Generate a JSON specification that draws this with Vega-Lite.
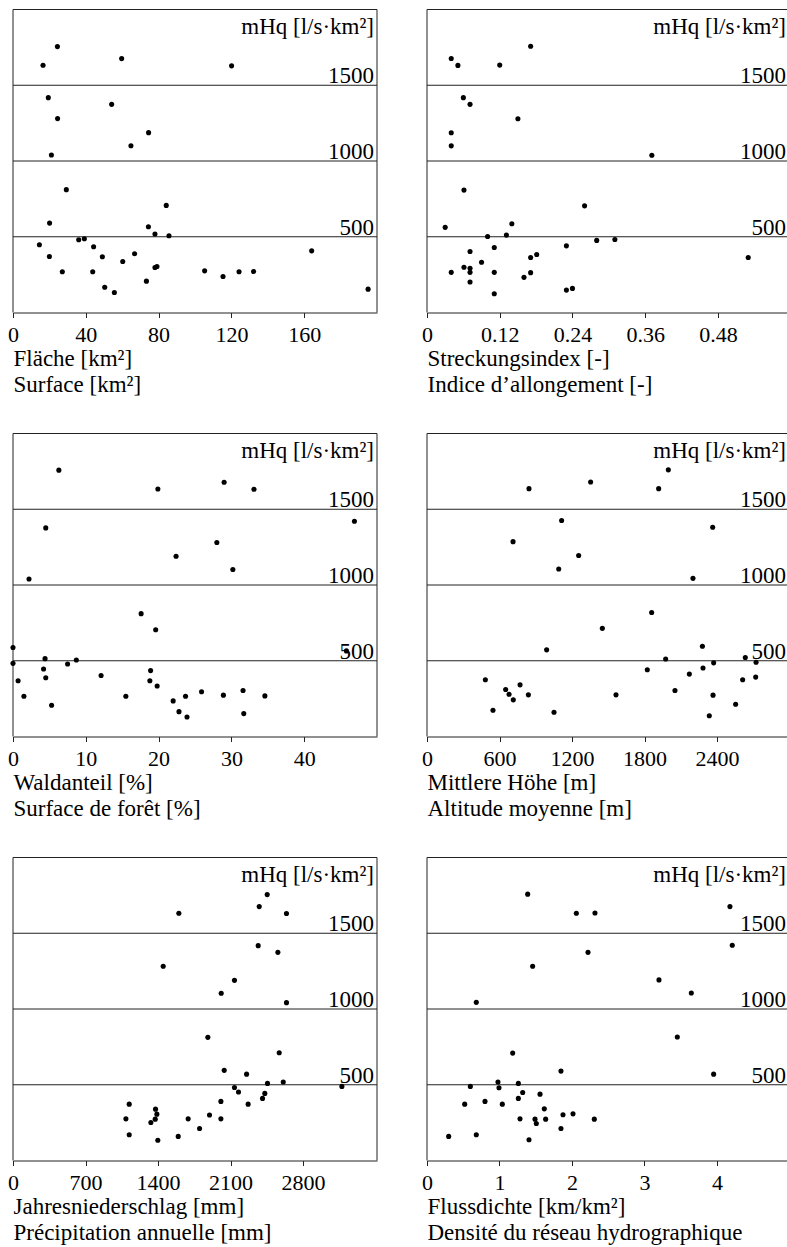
{
  "$schema": "https://vega.github.io/schema/vega-lite/v6.json",
  "padding": {"left": 7, "top": 8.5, "right": 0, "bottom": 0},
  "background": "white",
  "bounds": "flush",
  "columns": 2,
  "spacing": {"row": 121, "column": 50},
  "config": {
    "font": "Liberation Serif",
    "view": {"stroke": null},
    "scale": {"nice": false},
    "axisX": {
      "grid": false,
      "domainColor": "#222",
      "tickColor": "#222",
      "tickSize": 5,
      "labelFont": "Liberation Serif",
      "labelFontSize": 22,
      "labelColor": "black",
      "labelPadding": 7,
      "labelFlush": false,
      "labelOverlap": false,
      "titleFont": "Liberation Serif",
      "titleFontSize": 23,
      "titleFontWeight": "normal",
      "titleColor": "black",
      "titleAlign": "left",
      "titleAnchor": "start",
      "titleX": 0,
      "titleY": 53,
      "titleBaseline": "alphabetic",
      "titleLineHeight": 25.5
    },
    "rule": {"color": "#222", "strokeWidth": 1},
    "text": {"font": "Liberation Serif", "fontSize": 23, "color": "black"}
  },
  "datasets": {
    "levels": [{"level": 500}, {"level": 1000}, {"level": 1500}],
    "unit": [{"label": "mHq [l/s·km²]"}],
    "flaeche": [
      {"x": 24.4, "y": 1755}, {"x": 16.5, "y": 1632}, {"x": 59.7, "y": 1676}, {"x": 120.1, "y": 1628},
      {"x": 19.4, "y": 1418}, {"x": 54.2, "y": 1374}, {"x": 24.5, "y": 1280}, {"x": 74.5, "y": 1187},
      {"x": 64.8, "y": 1101}, {"x": 21.1, "y": 1040}, {"x": 29.3, "y": 811}, {"x": 84.2, "y": 707},
      {"x": 20.1, "y": 590}, {"x": 74.4, "y": 566}, {"x": 78.0, "y": 518}, {"x": 85.7, "y": 507},
      {"x": 36.1, "y": 480}, {"x": 39.2, "y": 487}, {"x": 14.5, "y": 447}, {"x": 44.3, "y": 434},
      {"x": 20.0, "y": 370}, {"x": 49.1, "y": 368}, {"x": 66.8, "y": 388}, {"x": 60.3, "y": 337},
      {"x": 78.0, "y": 297}, {"x": 79.1, "y": 304}, {"x": 27.1, "y": 269}, {"x": 43.8, "y": 269},
      {"x": 105.3, "y": 275}, {"x": 115.4, "y": 238}, {"x": 124.2, "y": 269}, {"x": 132.2, "y": 271},
      {"x": 73.3, "y": 207}, {"x": 50.4, "y": 167}, {"x": 55.7, "y": 132}, {"x": 164.1, "y": 407},
      {"x": 195.1, "y": 154}
    ],
    "streckung": [
      {"x": 0.171, "y": 1757}, {"x": 0.040, "y": 1677}, {"x": 0.051, "y": 1631}, {"x": 0.120, "y": 1633},
      {"x": 0.060, "y": 1418}, {"x": 0.071, "y": 1374}, {"x": 0.150, "y": 1279}, {"x": 0.040, "y": 1186},
      {"x": 0.040, "y": 1100}, {"x": 0.371, "y": 1038}, {"x": 0.061, "y": 808}, {"x": 0.260, "y": 704},
      {"x": 0.030, "y": 562}, {"x": 0.140, "y": 586}, {"x": 0.100, "y": 502}, {"x": 0.131, "y": 511},
      {"x": 0.280, "y": 476}, {"x": 0.310, "y": 482}, {"x": 0.111, "y": 429}, {"x": 0.230, "y": 440},
      {"x": 0.071, "y": 403}, {"x": 0.171, "y": 363}, {"x": 0.181, "y": 383}, {"x": 0.090, "y": 332},
      {"x": 0.061, "y": 299}, {"x": 0.071, "y": 292}, {"x": 0.071, "y": 265}, {"x": 0.040, "y": 265},
      {"x": 0.111, "y": 265}, {"x": 0.171, "y": 263}, {"x": 0.160, "y": 232}, {"x": 0.071, "y": 201},
      {"x": 0.111, "y": 124}, {"x": 0.230, "y": 148}, {"x": 0.240, "y": 159}, {"x": 0.530, "y": 363}
    ],
    "wald": [
      {"x": 6.3, "y": 1758}, {"x": 19.9, "y": 1634}, {"x": 29.0, "y": 1678}, {"x": 33.1, "y": 1632},
      {"x": 4.5, "y": 1377}, {"x": 46.9, "y": 1421}, {"x": 28.0, "y": 1281}, {"x": 22.4, "y": 1190},
      {"x": 30.2, "y": 1102}, {"x": 2.2, "y": 1040}, {"x": 17.6, "y": 811}, {"x": 19.6, "y": 705},
      {"x": 0, "y": 587}, {"x": 0, "y": 483}, {"x": 4.4, "y": 514}, {"x": 7.5, "y": 479},
      {"x": 8.7, "y": 505}, {"x": 4.2, "y": 446}, {"x": 18.9, "y": 435}, {"x": 45.8, "y": 565},
      {"x": 0.7, "y": 368}, {"x": 4.5, "y": 388}, {"x": 12.1, "y": 403}, {"x": 18.8, "y": 368},
      {"x": 19.8, "y": 333}, {"x": 1.5, "y": 266}, {"x": 5.3, "y": 206}, {"x": 15.5, "y": 266},
      {"x": 22.0, "y": 235}, {"x": 23.7, "y": 266}, {"x": 22.8, "y": 164}, {"x": 23.9, "y": 129},
      {"x": 25.9, "y": 295}, {"x": 28.9, "y": 273}, {"x": 31.6, "y": 304}, {"x": 31.7, "y": 151},
      {"x": 34.6, "y": 268}
    ],
    "hoehe": [
      {"x": 1997, "y": 1760}, {"x": 1354, "y": 1680}, {"x": 844, "y": 1636}, {"x": 1917, "y": 1636},
      {"x": 1114, "y": 1426}, {"x": 2364, "y": 1381}, {"x": 712, "y": 1286}, {"x": 1255, "y": 1195},
      {"x": 1090, "y": 1106}, {"x": 2201, "y": 1044}, {"x": 1859, "y": 818}, {"x": 1451, "y": 714},
      {"x": 990, "y": 572}, {"x": 2279, "y": 596}, {"x": 1975, "y": 512}, {"x": 2634, "y": 521},
      {"x": 2723, "y": 490}, {"x": 2372, "y": 486}, {"x": 1823, "y": 441}, {"x": 2284, "y": 452},
      {"x": 2171, "y": 412}, {"x": 483, "y": 375}, {"x": 2612, "y": 375}, {"x": 2720, "y": 392},
      {"x": 770, "y": 341}, {"x": 651, "y": 310}, {"x": 679, "y": 279}, {"x": 839, "y": 275},
      {"x": 714, "y": 242}, {"x": 1564, "y": 275}, {"x": 2052, "y": 304}, {"x": 2367, "y": 273},
      {"x": 546, "y": 173}, {"x": 1051, "y": 160}, {"x": 2554, "y": 213}, {"x": 2336, "y": 137}
    ],
    "niederschlag": [
      {"x": 2454, "y": 1755}, {"x": 2377, "y": 1676}, {"x": 1601, "y": 1632}, {"x": 2640, "y": 1630},
      {"x": 2367, "y": 1418}, {"x": 2557, "y": 1374}, {"x": 1450, "y": 1282}, {"x": 2138, "y": 1189},
      {"x": 2010, "y": 1104}, {"x": 2640, "y": 1042}, {"x": 1881, "y": 813}, {"x": 2570, "y": 711},
      {"x": 2039, "y": 595}, {"x": 2255, "y": 570}, {"x": 2609, "y": 518}, {"x": 2457, "y": 509},
      {"x": 3175, "y": 489}, {"x": 2138, "y": 482}, {"x": 2177, "y": 452}, {"x": 2431, "y": 443},
      {"x": 2409, "y": 410}, {"x": 2270, "y": 372}, {"x": 2007, "y": 390}, {"x": 1122, "y": 372},
      {"x": 1376, "y": 339}, {"x": 1389, "y": 306}, {"x": 1373, "y": 273}, {"x": 1331, "y": 251},
      {"x": 1090, "y": 275}, {"x": 1691, "y": 275}, {"x": 1897, "y": 300}, {"x": 2007, "y": 275},
      {"x": 1801, "y": 211}, {"x": 1122, "y": 170}, {"x": 1398, "y": 134}, {"x": 1595, "y": 159}
    ],
    "fluss": [
      {"x": 1.389, "y": 1758}, {"x": 2.060, "y": 1632}, {"x": 2.317, "y": 1634}, {"x": 4.179, "y": 1676},
      {"x": 2.221, "y": 1374}, {"x": 4.211, "y": 1421}, {"x": 1.457, "y": 1282}, {"x": 3.200, "y": 1192},
      {"x": 3.646, "y": 1106}, {"x": 0.680, "y": 1044}, {"x": 3.453, "y": 815}, {"x": 1.182, "y": 709},
      {"x": 1.848, "y": 590}, {"x": 3.954, "y": 570}, {"x": 0.979, "y": 518}, {"x": 1.260, "y": 509},
      {"x": 0.598, "y": 489}, {"x": 0.993, "y": 480}, {"x": 1.320, "y": 449}, {"x": 1.559, "y": 438},
      {"x": 1.260, "y": 410}, {"x": 0.520, "y": 372}, {"x": 0.800, "y": 390}, {"x": 1.039, "y": 372},
      {"x": 1.618, "y": 341}, {"x": 1.283, "y": 275}, {"x": 1.490, "y": 273}, {"x": 1.508, "y": 244},
      {"x": 1.637, "y": 273}, {"x": 1.876, "y": 302}, {"x": 2.014, "y": 308}, {"x": 2.308, "y": 273},
      {"x": 1.848, "y": 211}, {"x": 0.299, "y": 159}, {"x": 0.680, "y": 170}, {"x": 1.407, "y": 137}
    ]
  },
  "concat": [
    {
      "width": 364, "height": 303,
      "layer": [
        {"data": {"name": "levels"}, "mark": "rule",
         "encoding": {"y": {"field": "level", "type": "quantitative", "scale": {"domain": [0, 2000], "nice": false}, "axis": null}}},
        {"data": {"name": "unit"}, "mark": "rule", "encoding": {"x": {"datum": 0, "type": "quantitative"}}},
        {"data": {"name": "unit"}, "mark": "rule", "encoding": {"x": {"datum": 200, "type": "quantitative"}}},
        {"data": {"name": "unit"}, "mark": "rule", "encoding": {"y": {"datum": 2000, "type": "quantitative", "axis": null}}},
        {"data": {"name": "levels"}, "mark": {"type": "text", "align": "right", "baseline": "alphabetic", "dx": -3, "dy": -2},
         "encoding": {"x": {"datum": 200, "type": "quantitative"}, "y": {"field": "level", "type": "quantitative", "axis": null}, "text": {"field": "level", "type": "quantitative", "format": "d"}}},
        {"data": {"name": "unit"}, "mark": {"type": "text", "align": "right", "baseline": "alphabetic", "dx": -3, "dy": 24},
         "encoding": {"x": {"datum": 200, "type": "quantitative"}, "y": {"datum": 2000, "type": "quantitative", "axis": null}, "text": {"field": "label"}}},
        {"data": {"name": "flaeche"}, "mark": {"type": "circle", "size": 26, "color": "black", "opacity": 1},
         "encoding": {
           "x": {"field": "x", "type": "quantitative", "scale": {"domain": [0, 200], "nice": false}, "axis": {"values": [0, 40, 80, 120, 160], "format": "d", "title": ["Fläche [km²]", "Surface [km²]"]}},
           "y": {"field": "y", "type": "quantitative", "axis": null}}}
      ]
    },
    {
      "width": 360, "height": 303,
      "layer": [
        {"data": {"name": "levels"}, "mark": "rule",
         "encoding": {"y": {"field": "level", "type": "quantitative", "scale": {"domain": [0, 2000], "nice": false}, "axis": null}}},
        {"data": {"name": "unit"}, "mark": "rule", "encoding": {"x": {"datum": 0, "type": "quantitative"}}},
        {"data": {"name": "unit"}, "mark": "rule", "encoding": {"y": {"datum": 2000, "type": "quantitative", "axis": null}}},
        {"data": {"name": "levels"}, "mark": {"type": "text", "align": "right", "baseline": "alphabetic", "dx": -1, "dy": -2},
         "encoding": {"x": {"datum": 0.594, "type": "quantitative"}, "y": {"field": "level", "type": "quantitative", "axis": null}, "text": {"field": "level", "type": "quantitative", "format": "d"}}},
        {"data": {"name": "unit"}, "mark": {"type": "text", "align": "right", "baseline": "alphabetic", "dx": -1, "dy": 24},
         "encoding": {"x": {"datum": 0.594, "type": "quantitative"}, "y": {"datum": 2000, "type": "quantitative", "axis": null}, "text": {"field": "label"}}},
        {"data": {"name": "streckung"}, "mark": {"type": "circle", "size": 26, "color": "black", "opacity": 1},
         "encoding": {
           "x": {"field": "x", "type": "quantitative", "scale": {"domain": [0, 0.594], "nice": false}, "axis": {"values": [0, 0.12, 0.24, 0.36, 0.48], "format": ".2~f", "title": ["Streckungsindex [-]", "Indice d’allongement [-]"]}},
           "y": {"field": "y", "type": "quantitative", "axis": null}}}
      ]
    },
    {
      "width": 364, "height": 303,
      "layer": [
        {"data": {"name": "levels"}, "mark": "rule",
         "encoding": {"y": {"field": "level", "type": "quantitative", "scale": {"domain": [0, 2000], "nice": false}, "axis": null}}},
        {"data": {"name": "unit"}, "mark": "rule", "encoding": {"x": {"datum": 0, "type": "quantitative"}}},
        {"data": {"name": "unit"}, "mark": "rule", "encoding": {"x": {"datum": 50, "type": "quantitative"}}},
        {"data": {"name": "unit"}, "mark": "rule", "encoding": {"y": {"datum": 2000, "type": "quantitative", "axis": null}}},
        {"data": {"name": "levels"}, "mark": {"type": "text", "align": "right", "baseline": "alphabetic", "dx": -3, "dy": -2},
         "encoding": {"x": {"datum": 50, "type": "quantitative"}, "y": {"field": "level", "type": "quantitative", "axis": null}, "text": {"field": "level", "type": "quantitative", "format": "d"}}},
        {"data": {"name": "unit"}, "mark": {"type": "text", "align": "right", "baseline": "alphabetic", "dx": -3, "dy": 24},
         "encoding": {"x": {"datum": 50, "type": "quantitative"}, "y": {"datum": 2000, "type": "quantitative", "axis": null}, "text": {"field": "label"}}},
        {"data": {"name": "wald"}, "mark": {"type": "circle", "size": 26, "color": "black", "opacity": 1},
         "encoding": {
           "x": {"field": "x", "type": "quantitative", "scale": {"domain": [0, 50], "nice": false}, "axis": {"values": [0, 10, 20, 30, 40], "format": "d", "title": ["Waldanteil [%]", "Surface de forêt [%]"]}},
           "y": {"field": "y", "type": "quantitative", "axis": null}}}
      ]
    },
    {
      "width": 360, "height": 303,
      "layer": [
        {"data": {"name": "levels"}, "mark": "rule",
         "encoding": {"y": {"field": "level", "type": "quantitative", "scale": {"domain": [0, 2000], "nice": false}, "axis": null}}},
        {"data": {"name": "unit"}, "mark": "rule", "encoding": {"x": {"datum": 0, "type": "quantitative"}}},
        {"data": {"name": "unit"}, "mark": "rule", "encoding": {"y": {"datum": 2000, "type": "quantitative", "axis": null}}},
        {"data": {"name": "levels"}, "mark": {"type": "text", "align": "right", "baseline": "alphabetic", "dx": -1, "dy": -2},
         "encoding": {"x": {"datum": 2979, "type": "quantitative"}, "y": {"field": "level", "type": "quantitative", "axis": null}, "text": {"field": "level", "type": "quantitative", "format": "d"}}},
        {"data": {"name": "unit"}, "mark": {"type": "text", "align": "right", "baseline": "alphabetic", "dx": -1, "dy": 24},
         "encoding": {"x": {"datum": 2979, "type": "quantitative"}, "y": {"datum": 2000, "type": "quantitative", "axis": null}, "text": {"field": "label"}}},
        {"data": {"name": "hoehe"}, "mark": {"type": "circle", "size": 26, "color": "black", "opacity": 1},
         "encoding": {
           "x": {"field": "x", "type": "quantitative", "scale": {"domain": [0, 2979], "nice": false}, "axis": {"values": [0, 600, 1200, 1800, 2400], "format": "d", "title": ["Mittlere Höhe [m]", "Altitude moyenne [m]"]}},
           "y": {"field": "y", "type": "quantitative", "axis": null}}}
      ]
    },
    {
      "width": 364, "height": 303,
      "layer": [
        {"data": {"name": "levels"}, "mark": "rule",
         "encoding": {"y": {"field": "level", "type": "quantitative", "scale": {"domain": [0, 2000], "nice": false}, "axis": null}}},
        {"data": {"name": "unit"}, "mark": "rule", "encoding": {"x": {"datum": 0, "type": "quantitative"}}},
        {"data": {"name": "unit"}, "mark": "rule", "encoding": {"x": {"datum": 3514, "type": "quantitative"}}},
        {"data": {"name": "unit"}, "mark": "rule", "encoding": {"y": {"datum": 2000, "type": "quantitative", "axis": null}}},
        {"data": {"name": "levels"}, "mark": {"type": "text", "align": "right", "baseline": "alphabetic", "dx": -3, "dy": -2},
         "encoding": {"x": {"datum": 3514, "type": "quantitative"}, "y": {"field": "level", "type": "quantitative", "axis": null}, "text": {"field": "level", "type": "quantitative", "format": "d"}}},
        {"data": {"name": "unit"}, "mark": {"type": "text", "align": "right", "baseline": "alphabetic", "dx": -3, "dy": 24},
         "encoding": {"x": {"datum": 3514, "type": "quantitative"}, "y": {"datum": 2000, "type": "quantitative", "axis": null}, "text": {"field": "label"}}},
        {"data": {"name": "niederschlag"}, "mark": {"type": "circle", "size": 26, "color": "black", "opacity": 1},
         "encoding": {
           "x": {"field": "x", "type": "quantitative", "scale": {"domain": [0, 3514], "nice": false}, "axis": {"values": [0, 700, 1400, 2100, 2800], "format": "d", "title": ["Jahresniederschlag [mm]", "Précipitation annuelle [mm]"]}},
           "y": {"field": "y", "type": "quantitative", "axis": null}}}
      ]
    },
    {
      "width": 360, "height": 303,
      "layer": [
        {"data": {"name": "levels"}, "mark": "rule",
         "encoding": {"y": {"field": "level", "type": "quantitative", "scale": {"domain": [0, 2000], "nice": false}, "axis": null}}},
        {"data": {"name": "unit"}, "mark": "rule", "encoding": {"x": {"datum": 0, "type": "quantitative"}}},
        {"data": {"name": "unit"}, "mark": "rule", "encoding": {"y": {"datum": 2000, "type": "quantitative", "axis": null}}},
        {"data": {"name": "levels"}, "mark": {"type": "text", "align": "right", "baseline": "alphabetic", "dx": -1, "dy": -2},
         "encoding": {"x": {"datum": 4.966, "type": "quantitative"}, "y": {"field": "level", "type": "quantitative", "axis": null}, "text": {"field": "level", "type": "quantitative", "format": "d"}}},
        {"data": {"name": "unit"}, "mark": {"type": "text", "align": "right", "baseline": "alphabetic", "dx": -1, "dy": 24},
         "encoding": {"x": {"datum": 4.966, "type": "quantitative"}, "y": {"datum": 2000, "type": "quantitative", "axis": null}, "text": {"field": "label"}}},
        {"data": {"name": "fluss"}, "mark": {"type": "circle", "size": 26, "color": "black", "opacity": 1},
         "encoding": {
           "x": {"field": "x", "type": "quantitative", "scale": {"domain": [0, 4.966], "nice": false}, "axis": {"values": [0, 1, 2, 3, 4], "format": "d", "title": ["Flussdichte [km/km²]", "Densité du réseau hydrographique"]}},
           "y": {"field": "y", "type": "quantitative", "axis": null}}}
      ]
    }
  ]
}
